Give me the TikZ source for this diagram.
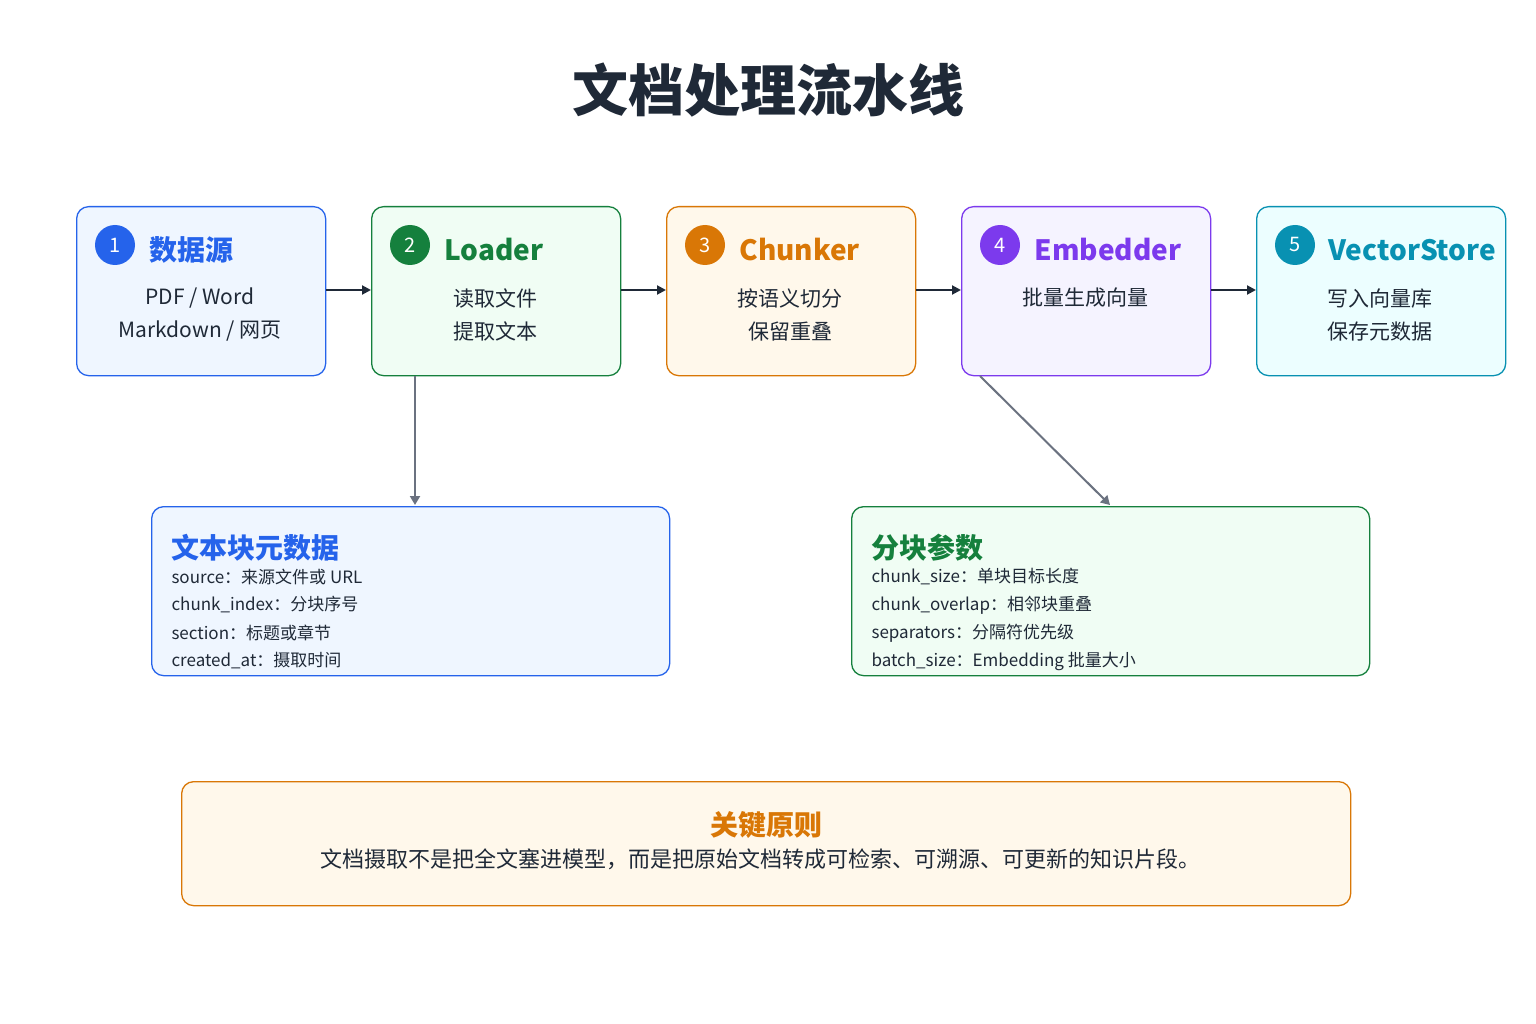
\documentclass[tikz,border=0pt]{standalone}
\usepackage{fontspec}
\setmainfont{Noto Sans CJK SC}
\usetikzlibrary{arrows.meta}
\definecolor{cb}{HTML}{2563EB}\definecolor{fb}{HTML}{EFF6FF}
\definecolor{cg}{HTML}{15803D}\definecolor{fg}{HTML}{F0FDF4}
\definecolor{co}{HTML}{D97706}\definecolor{fo}{HTML}{FFF8EB}
\definecolor{cp}{HTML}{7C3AED}\definecolor{fp}{HTML}{F5F3FF}
\definecolor{cc}{HTML}{0891B2}\definecolor{fc}{HTML}{ECFEFF}
\definecolor{tx}{HTML}{1F2937}\definecolor{gr}{HTML}{6B7280}
\begin{document}
\begin{tikzpicture}[x=1pt,y=-1pt,
  box/.style={draw=#1,line width=1.3pt,rounded corners=12pt},
  num/.style={circle,fill=#1,text=white,minimum size=40pt,inner sep=0pt,font=\fontsize{20}{20}\selectfont},
  head/.style={anchor=west,text=#1,font=\fontsize{28}{28}\selectfont\bfseries},
  body/.style={align=center,text=tx,font=\fontsize{21}{33}\selectfont},
  small/.style={anchor=west,text=tx,font=\fontsize{17}{17}\selectfont},
  arr/.style={-{Triangle[length=9pt,width=9pt]},line width=2pt,tx},
  garr/.style={-{Triangle[length=9pt,width=10pt]},line width=2pt,gr}]
\useasboundingbox (0,0) rectangle (1536,1024);
\fill[white] (0,0) rectangle (1536,1024);
\node[text=tx,font=\fontsize{56}{56}\selectfont\bfseries] (title) at (768,90) {文档处理流水线};
% top boxes
\foreach \n/\x/\c/\f in {1/76/cb/fb,2/371/cg/fg,3/666/co/fo,4/961/cp/fp,5/1256/cc/fc}{
  \node[box=\c,fill=\f,minimum width=249pt,minimum height=169pt,anchor=north west] (b\n) at (\x,206) {};
  \node[num=\c] (n\n) at (\x+39,245) {\n};
}
\node[head=cb] (h1) at (146,250) {数据源};
\node[head=cg] (h2) at (441,250) {Loader};
\node[head=co] (h3) at (736,250) {Chunker};
\node[head=cp] (h4) at (1031,250) {Embedder};
\node[head=cc] (h5) at (1325,250) {VectorStore};
\node[body] (t1) at (200,315) {PDF / Word\\Markdown / 网页};
\node[body] (t2) at (495,315) {读取文件\\提取文本};
\node[body] (t3) at (790,315) {按语义切分\\保留重叠};
\node[body] (t4) at (1085,298) {批量生成向量};
\node[body] (t5) at (1380,315) {写入向量库\\保存元数据};
\foreach \a/\b in {1/2,2/3,3/4,4/5}{\draw[arr] (b\a.east|-0,290) -- (b\b.west|-0,290);}
% lower boxes
\node[box=cb,fill=fb,minimum width=518pt,minimum height=169pt,anchor=north west] (meta) at (151,506) {};
\node[box=cg,fill=fg,minimum width=518pt,minimum height=169pt,anchor=north west] (par) at (851,506) {};
\coordinate (ls) at (415,376); \coordinate (le) at (415,505);
\draw[garr] (ls) -- (le);
\coordinate (es) at (980,376); \coordinate (ee) at (1110,505);
\draw[garr] (es) -- (ee);
\node[head=cb] (mh) at (168,548) {文本块元数据};
\node[small] (m1) at (168,577) {source：来源文件或 URL};
\node[small] (m2) at (168,605) {chunk\_index：分块序号};
\node[small] (m3) at (168,633) {section：标题或章节};
\node[small] (m4) at (168,661) {created\_at：摄取时间};
\node[head=cg] (ph) at (868,548) {分块参数};
\node[small] (p1) at (868,577) {chunk\_size：单块目标长度};
\node[small] (p2) at (868,605) {chunk\_overlap：相邻块重叠};
\node[small] (p3) at (868,633) {separators：分隔符优先级};
\node[small] (p4) at (868,661) {batch\_size：Embedding 批量大小};
% bottom
\node[box=co,fill=fo,minimum width=1169pt,minimum height=124pt,anchor=north west] (prin) at (181,781) {};
\node[text=co,font=\fontsize{28}{28}\selectfont\bfseries] (prh) at (766,825) {关键原则};
\node[text=tx,font=\fontsize{22}{22}\selectfont] (prt) at (760,859) {文档摄取不是把全文塞进模型，而是把原始文档转成可检索、可溯源、可更新的知识片段。};
\end{tikzpicture}
\end{document}
